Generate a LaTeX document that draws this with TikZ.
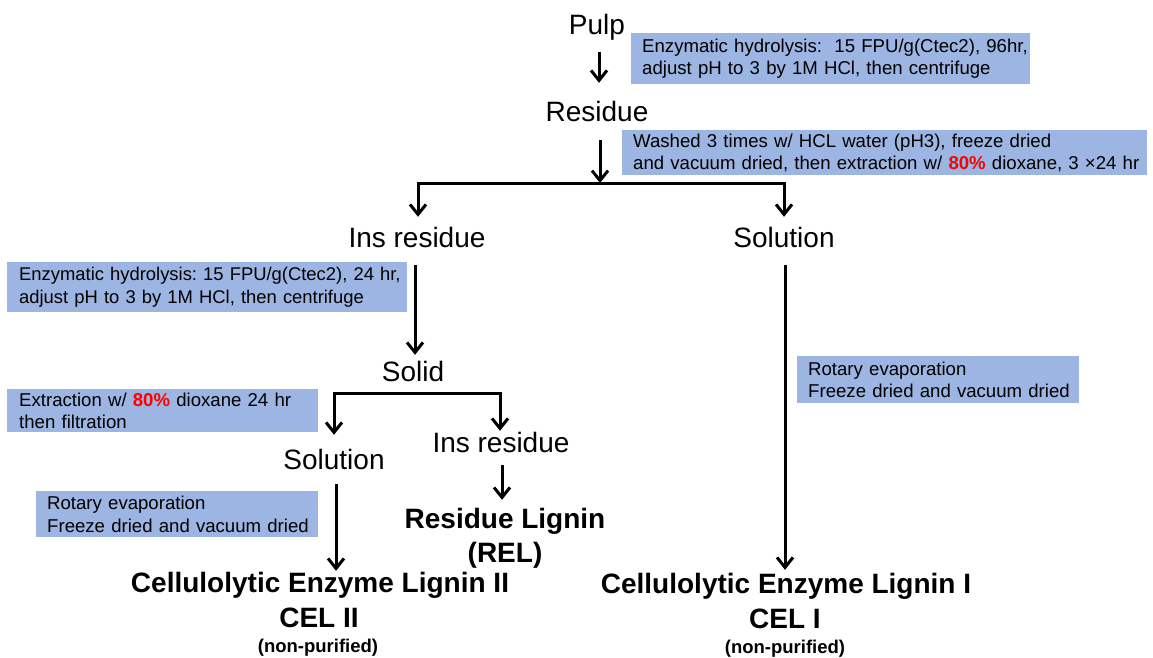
\documentclass[tikz,border=0pt]{standalone}
\usepackage{fontspec}
\setmainfont{Liberation Sans}
\usetikzlibrary{arrows.meta}
\definecolor{boxblue}{RGB}{157,181,226}
\definecolor{pctred}{RGB}{255,0,0}
\begin{document}
\begin{tikzpicture}[x=1pt,y=-1pt,
  big/.style={font=\fontsize{28}{34}\selectfont, inner sep=0pt, text height=20pt, text depth=0pt, anchor=base},
  bigb/.style={big, font=\fontsize{28}{34}\selectfont\bfseries},
  smallb/.style={font=\fontsize{18.5}{22}\selectfont\bfseries, inner sep=0pt, anchor=base},
  note/.style={fill=boxblue, anchor=north west, inner xsep=11pt, inner ysep=0pt, align=left, font=\fontsize{18.6}{22.5}\selectfont},
  arr/.style={line width=3pt, -{Straight Barb[length=10pt,width=16pt]}},
  ln/.style={line width=3pt}
]
\useasboundingbox (0,0) rectangle (1153,657);

% main nodes
\node[big] (pulp) at (597,34) {Pulp};
\node[big] (residue) at (597,121) {Residue};
\node[big] (insres1) at (417,247) {Ins residue};
\node[big] (sol1) at (784,247) {Solution};
\node[big] (solid) at (413,381) {Solid};
\node[big] (sol2) at (334,469) {Solution};
\node[big] (insres2) at (501,452) {Ins residue};
\node[bigb] (relA) at (505,528) {Residue Lignin};
\node[bigb] (relB) at (505,562) {(REL)};
\node[bigb] (cel2a) at (320,592) {Cellulolytic Enzyme Lignin II};
\node[bigb] (cel2b) at (319,627) {CEL II};
\node[smallb] (cel2c) at (318,652) {(non-purified)};
\node[bigb] (cel1a) at (786,593) {Cellulolytic Enzyme Lignin I};
\node[bigb] (cel1b) at (785,628) {CEL I};
\node[smallb] (cel1c) at (785,653) {(non-purified)};

% note boxes
\node[note, text width=377pt, minimum height=51pt] (n1) at (631,33)
  {\mbox{Enzymatic hydrolysis:\ \ 15 FPU/g(Ctec2), 96hr,}\\\mbox{adjust pH to 3 by 1M HCl, then centrifuge}};
\node[note, text width=503pt, minimum height=45pt] (n2) at (622,130)
  {\mbox{Washed 3 times w/ HCL water (pH3), freeze dried}\\\mbox{and vacuum dried, then extraction w/ \textcolor{pctred}{\bfseries 80\%} dioxane, 3 ×24 hr}};
\node[note, text width=376pt, inner xsep=12pt, minimum height=50pt, font=\fontsize{18.4}{22.5}\selectfont] (n3) at (7,262)
  {\mbox{Enzymatic hydrolysis:\ 15 FPU/g(Ctec2), 24 hr,}\\\mbox{adjust pH to 3 by 1M HCl, then centrifuge}};
\node[note, text width=287pt, inner xsep=12pt, minimum height=43pt] (n4) at (7,389)
  {\mbox{Extraction w/ \textcolor{pctred}{\bfseries 80\%} dioxane 24 hr}\\\mbox{then filtration}};
\node[note, text width=260pt, minimum height=46pt] (n5) at (36,491)
  {\mbox{Rotary evaporation}\\\mbox{Freeze dried and vacuum dried}};
\node[note, text width=260pt, minimum height=47pt] (n6) at (797,356)
  {\mbox{Rotary evaporation}\\\mbox{Freeze dried and vacuum dried}};

% connectors
\draw[arr, shorten <=18pt, shorten >=18pt] ([xshift=2pt]pulp.south) -- ([xshift=2pt]residue.north);

\coordinate (split1) at (600,183);
\draw[ln] (split1 -| insres1.north) -- (split1 -| sol1.north);
\draw[arr, shorten <=19pt] ([xshift=3pt]residue.south) -- (split1);
\draw[arr, shorten >=10pt] (split1) -| ([xshift=1pt]insres1.north);
\draw[arr, shorten >=10pt] (split1) -| (sol1.north);

\draw[arr, shorten <=18pt, shorten >=6pt] ([xshift=-2pt]insres1.south) -- ([xshift=2pt]solid.north);

\coordinate (split2) at (413,393);
\draw[ln] (split2) -- ++(87,0);
\draw[arr, shorten >=14pt] (split2) -| (sol2.north);
\draw[arr, shorten >=1pt] (split2) -| ([xshift=-1pt]insres2.north);

\draw[arr, shorten <=13pt, shorten >=8pt] ([xshift=1pt]insres2.south) -- ([xshift=-3pt]relA.north);
\draw[arr, shorten <=15pt, shorten >=1pt] ([xshift=2pt]sol2.south) -- ([xshift=16pt]cel2a.north);
\draw[arr, shorten <=18pt, shorten >=3pt] ([xshift=1pt]sol1.south) -- ([xshift=-1pt]cel1a.north);
\end{tikzpicture}
\end{document}
